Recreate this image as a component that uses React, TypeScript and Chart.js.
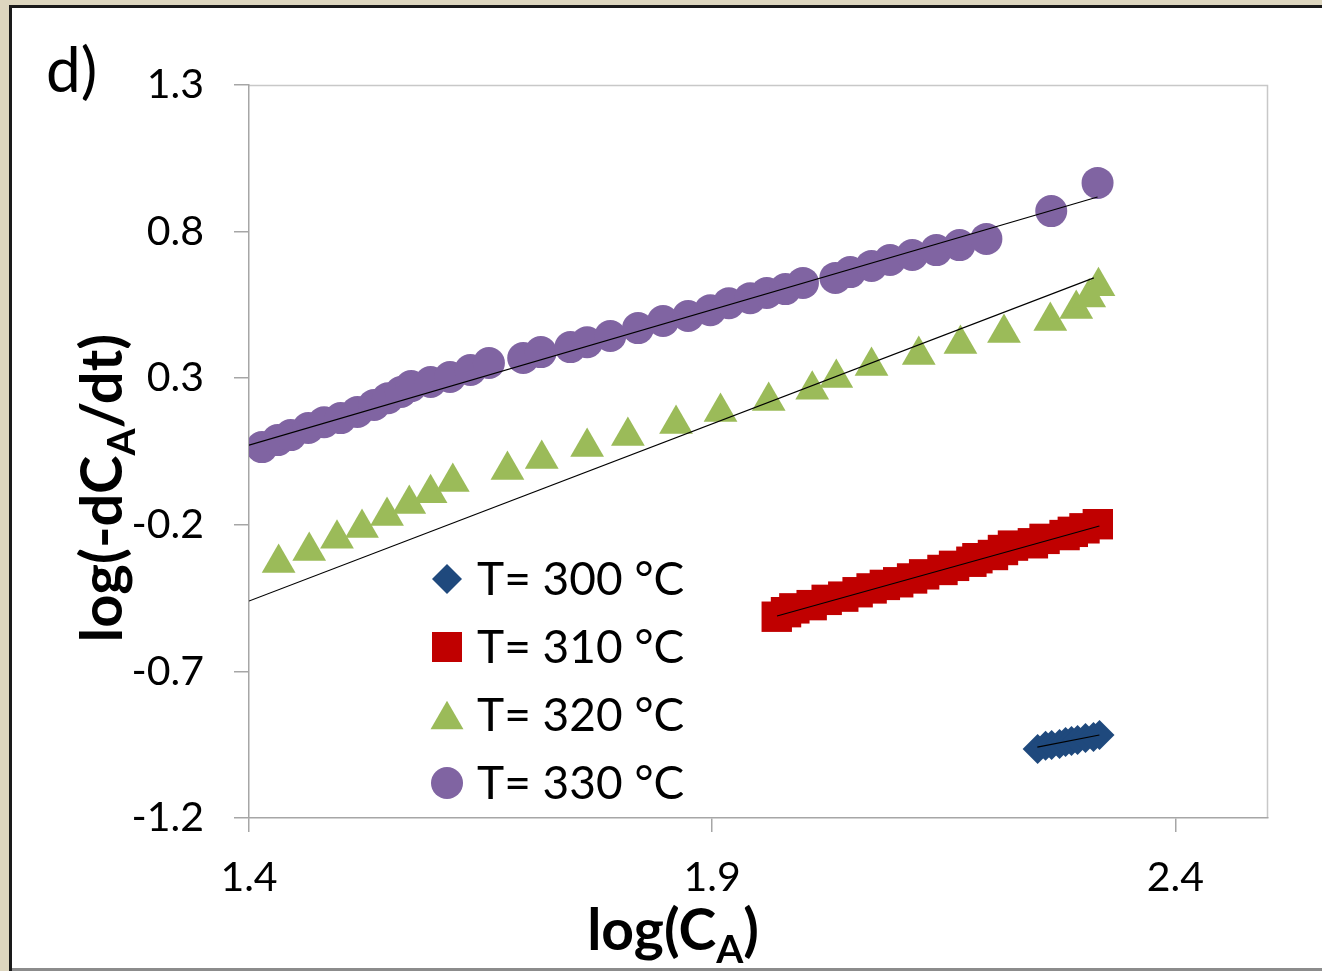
import React, { useEffect, useRef } from "react";
import { Chart, registerables } from "chart.js";
Chart.register(...registerables);

// ---------- data ----------
const seriesLabels = ["T= 300 °C", "T= 310 °C", "T= 320 °C", "T= 330 °C"];

const t300X = [2.2513, 2.2599, 2.2664, 2.275, 2.2815, 2.2879, 2.2944, 2.303, 2.3116, 2.3181];
const t300Y = [-0.965, -0.954, -0.951, -0.948, -0.941, -0.937, -0.934, -0.927, -0.924, -0.917];

const t310X = [1.9697, 1.9797, 1.9887, 2.0074, 2.0236, 2.0415, 2.057, 2.0721, 2.0864, 2.1008, 2.1158, 2.1288, 2.1486, 2.1611, 2.1798, 2.1863, 2.2031, 2.2139, 2.2247, 2.2462, 2.2588, 2.2804, 2.2893, 2.3019, 2.3163];
const t310Y = [-0.5135, -0.498, -0.485, -0.474, -0.456, -0.445, -0.43, -0.417, -0.405, -0.396, -0.383, -0.369, -0.354, -0.34, -0.326, -0.314, -0.303, -0.286, -0.271, -0.263, -0.248, -0.235, -0.224, -0.212, -0.198];

const t320X = [1.432, 1.465, 1.495, 1.522, 1.549, 1.573, 1.596, 1.62, 1.679, 1.716, 1.765, 1.809, 1.861, 1.909, 1.961, 2.008, 2.034, 2.072, 2.123, 2.168, 2.215, 2.265, 2.293, 2.307, 2.317];
const t320Y = [-0.33, -0.289, -0.248, -0.211, -0.17, -0.129, -0.092, -0.054, -0.013, 0.024, 0.065, 0.103, 0.144, 0.185, 0.222, 0.261, 0.301, 0.342, 0.379, 0.417, 0.454, 0.495, 0.536, 0.575, 0.614];

const t330X = [1.414, 1.431, 1.445, 1.464, 1.481, 1.499, 1.517, 1.535, 1.55, 1.564, 1.575, 1.596, 1.617, 1.639, 1.659, 1.696, 1.715, 1.747, 1.765, 1.79, 1.82, 1.847, 1.874, 1.898, 1.918, 1.941, 1.959, 1.979, 1.998, 2.033, 2.049, 2.072, 2.092, 2.116, 2.142, 2.167, 2.196, 2.266, 2.316];
const t330Y = [0.065, 0.089, 0.106, 0.13, 0.15, 0.164, 0.185, 0.209, 0.232, 0.253, 0.273, 0.287, 0.304, 0.328, 0.352, 0.369, 0.389, 0.406, 0.423, 0.444, 0.471, 0.495, 0.512, 0.532, 0.556, 0.573, 0.591, 0.604, 0.625, 0.642, 0.662, 0.683, 0.703, 0.72, 0.737, 0.754, 0.775, 0.87, 0.966];

// linear trendline end points (x, y)
const fit300X = [2.251, 2.318];
const fit300Y = [-0.958, -0.917];
const fit310X = [1.97, 2.318];
const fit310Y = [-0.511, -0.204];
const fit320X = [1.4, 2.312];
const fit320Y = [-0.46, 0.642];
const fit330X = [1.4, 2.316];
const fit330Y = [0.072, 0.918];

const xTicks = [1.4, 1.9, 2.4];
const yTicks = [1.3, 0.8, 0.3, -0.2, -0.7, -1.2];
const xMin = 1.4, xMax = 2.5, yMin = -1.2, yMax = 1.3;

const panelLabel = "d)";

// ---------- styles ----------
const colors = ["#1f497d", "#c00000", "#9bbb59", "#8064a2"];
const shapes = ["rectRot", "rect", "triangle", "circle"];
const radii = [15, 21.5, 19.5, 16];
const FONT = "Lato, 'Open Sans', sans-serif";

const zip = (xs: number[], ys: number[]) => xs.map((x, i) => ({ x, y: ys[i] }));

function drawSubText(ctx: CanvasRenderingContext2D, parts: { t: string; sub?: boolean }[], x: number, y: number, size: number, align: "center" | "left") {
  const big = `bold ${size}px ${FONT}`;
  const small = `bold ${Math.round(size * 0.68)}px ${FONT}`;
  let total = 0;
  for (const p of parts) {
    ctx.font = p.sub ? small : big;
    total += ctx.measureText(p.t).width;
  }
  let cx = align === "center" ? x - total / 2 : x;
  ctx.textAlign = "left";
  ctx.textBaseline = "alphabetic";
  for (const p of parts) {
    ctx.font = p.sub ? small : big;
    ctx.fillText(p.t, cx, p.sub ? y + size * 0.22 : y);
    cx += ctx.measureText(p.t).width;
  }
}

function drawMarker(ctx: CanvasRenderingContext2D, shape: string, x: number, y: number, r: number) {
  ctx.beginPath();
  if (shape === "circle") {
    ctx.arc(x, y, r, 0, Math.PI * 2);
  } else if (shape === "rect") {
    const s = Math.SQRT1_2 * r;
    ctx.rect(x - s, y - s, 2 * s, 2 * s);
  } else if (shape === "rectRot") {
    ctx.moveTo(x, y - r);
    ctx.lineTo(x + r, y);
    ctx.lineTo(x, y + r);
    ctx.lineTo(x - r, y);
    ctx.closePath();
  } else if (shape === "triangle") {
    for (let k = 0; k < 3; k++) {
      const ang = (k * 2 * Math.PI) / 3;
      const px = x + Math.sin(ang) * r;
      const py = y - Math.cos(ang) * r + r * 0.25;
      if (k === 0) ctx.moveTo(px, py);
      else ctx.lineTo(px, py);
    }
    ctx.closePath();
  }
  ctx.fill();
}

const decorPlugin = {
  id: "decor",
  beforeDraw(chart: any) {
    const { ctx, width, height } = chart;
    ctx.save();
    ctx.fillStyle = "#ddd6bf";
    ctx.fillRect(0, 0, width, height);
    ctx.fillStyle = "#ffffff";
    ctx.fillRect(12, 8, width - 12, height - 8);
    ctx.fillStyle = "#1a1a1a";
    ctx.fillRect(9, 5, width - 9, 3);
    ctx.fillRect(9, 5, 3, height - 5);
    ctx.fillStyle = "#8c8c8c";
    ctx.fillRect(12, height - 3, width - 12, 3);
    const a = chart.chartArea;
    ctx.strokeStyle = "#c8c8c8";
    ctx.lineWidth = 1.5;
    ctx.beginPath();
    ctx.moveTo(a.left, a.top + 0.5);
    ctx.lineTo(a.right - 0.5, a.top + 0.5);
    ctx.lineTo(a.right - 0.5, a.bottom);
    ctx.stroke();
    ctx.restore();
  },
  afterDraw(chart: any) {
    const { ctx } = chart;
    const a = chart.chartArea;
    ctx.save();
    ctx.fillStyle = "#000";
    // panel label
    ctx.font = `62px ${FONT}`;
    ctx.textAlign = "left";
    ctx.textBaseline = "alphabetic";
    ctx.fillText(panelLabel, 46, 92);
    // x title
    drawSubText(ctx, [{ t: "log(C" }, { t: "A", sub: true }, { t: ")" }], 673, 950, 57, "center");
    // y title
    ctx.save();
    ctx.translate(122, 488);
    ctx.rotate(-Math.PI / 2);
    drawSubText(ctx, [{ t: "log(-dC" }, { t: "A", sub: true }, { t: "/dt)" }], 0, 0, 58, "center");
    ctx.restore();
    // legend
    const lx = 447, ly0 = 579, dy = 68;
    seriesLabels.forEach((lab, i) => {
      const y = ly0 + i * dy;
      ctx.fillStyle = colors[i];
      drawMarker(ctx, shapes[i], lx, y, i === 1 ? 21.2 : i === 2 ? 19 : radii[i]);
      ctx.fillStyle = "#000";
      ctx.font = `46px ${FONT}`;
      ctx.textAlign = "left";
      ctx.textBaseline = "middle";
      ctx.fillText(lab, 477, y + 1);
    });
    ctx.restore();
  },
};

export default function App() {
  const ref = useRef<HTMLCanvasElement | null>(null);
  useEffect(() => {
    document.body.style.margin = "0";
    const canvas = ref.current!;
    const scatterSets = [
      [t300X, t300Y],
      [t310X, t310Y],
      [t320X, t320Y],
      [t330X, t330Y],
    ].map(([xs, ys], i) => ({
      type: "scatter" as const,
      label: seriesLabels[i],
      data: zip(xs, ys),
      pointStyle: shapes[i],
      pointRadius: radii[i],
      pointHoverRadius: radii[i],
      pointBackgroundColor: colors[i],
      pointBorderColor: colors[i],
      pointBorderWidth: 0,
      showLine: false,
      order: 10 - i,
    }));
    const fitSets = [
      [fit300X, fit300Y],
      [fit310X, fit310Y],
      [fit320X, fit320Y],
      [fit330X, fit330Y],
    ].map(([xs, ys], i) => ({
      type: "scatter" as const,
      label: "fit" + i,
      data: zip(xs, ys),
      showLine: true,
      borderColor: "#000000",
      borderWidth: 1.2,
      pointRadius: 0,
      pointHoverRadius: 0,
      fill: false,
      order: 0,
    }));
    const chart = new Chart(canvas, {
      type: "scatter",
      data: { datasets: [...scatterSets, ...fitSets] as any },
      options: {
        animation: false,
        responsive: false,
        maintainAspectRatio: false,
        layout: { padding: { top: 85, right: 54, left: 0, bottom: 0 } },
        plugins: { legend: { display: false }, tooltip: { enabled: false } },
        scales: {
          x: {
            type: "linear",
            min: xMin,
            max: xMax,
            afterBuildTicks: (s: any) => {
              s.ticks = xTicks.map((v) => ({ value: v }));
            },
            afterFit: (s: any) => {
              s.height = 153;
            },
            ticks: {
              color: "#000",
              font: { family: FONT, size: 41 },
              padding: 21,
              maxRotation: 0,
              autoSkip: false,
              callback: (v: any) => Number(v).toFixed(1),
            },
            grid: { drawOnChartArea: false, drawTicks: true, tickLength: 14, color: "#a6a6a6", lineWidth: 1.5 },
            border: { color: "#a6a6a6", width: 1.5 },
          },
          y: {
            type: "linear",
            min: yMin,
            max: yMax,
            afterBuildTicks: (s: any) => {
              s.ticks = yTicks.map((v) => ({ value: v }));
            },
            afterFit: (s: any) => {
              s.width = 249;
            },
            ticks: {
              color: "#000",
              font: { family: FONT, size: 41 },
              padding: 30,
              autoSkip: false,
              callback: (v: any) => Number(v).toFixed(1),
            },
            grid: { drawOnChartArea: false, drawTicks: true, tickLength: 15, color: "#a6a6a6", lineWidth: 1.5 },
            border: { color: "#a6a6a6", width: 1.5 },
          },
        },
      },
      plugins: [decorPlugin],
    });
    return () => chart.destroy();
  }, []);
  return (
    <div style={{ width: 1322, height: 971, overflow: "hidden" }}>
      <canvas ref={ref} width={1322} height={971} style={{ display: "block", width: 1322, height: 971 }} />
    </div>
  );
}
